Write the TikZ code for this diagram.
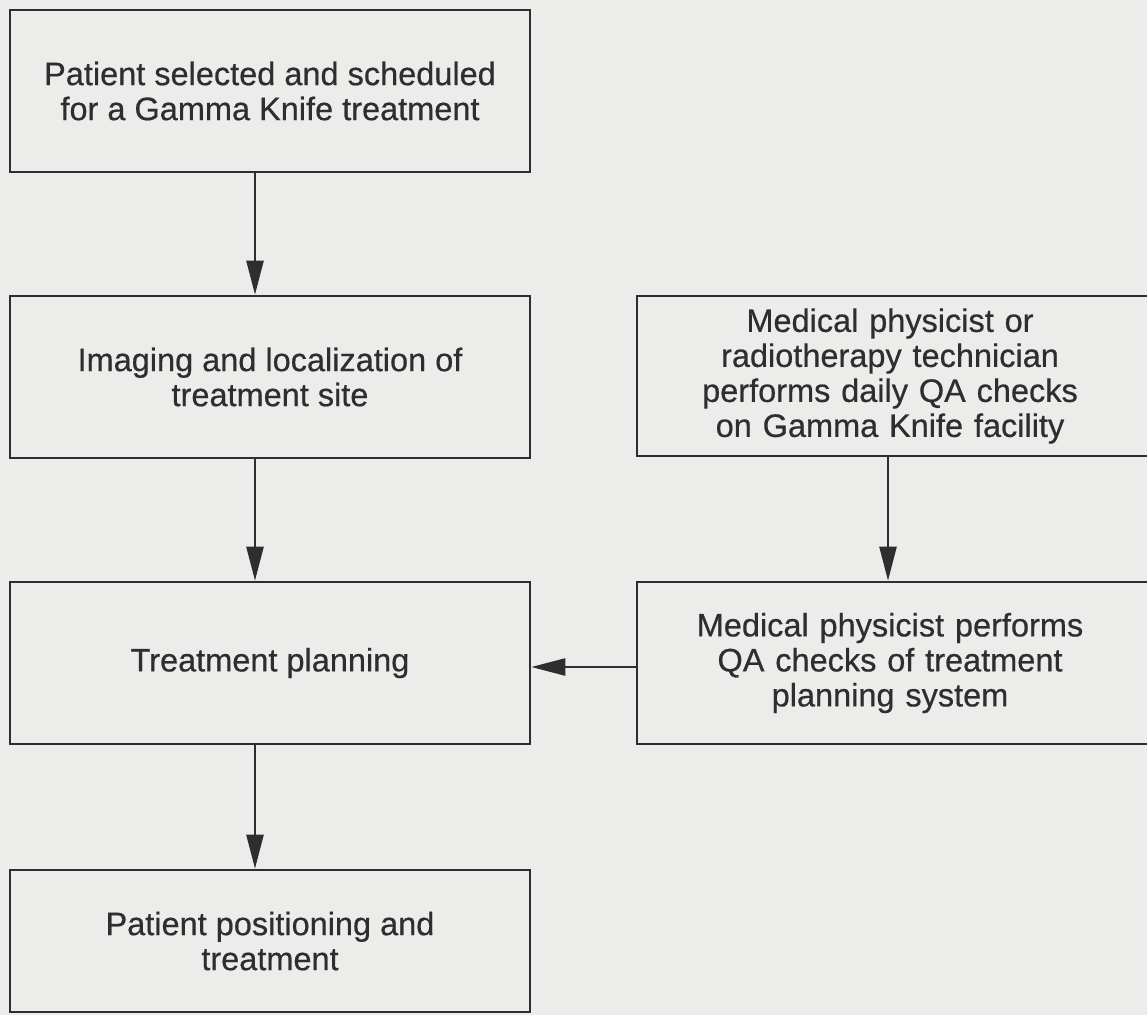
\documentclass[tikz,border=0pt]{standalone}
\usepackage{fontspec}
\setmainfont{Liberation Sans}
\newfontfamily\scanfont[FakeBold=0.5]{Liberation Sans}
\usetikzlibrary{arrows.meta}
\definecolor{bg}{HTML}{ECECEA}
\definecolor{ink}{HTML}{2E2E2E}
\tikzset{
  flowbox/.style={draw=ink, line width=2.6pt, rectangle, inner sep=0pt,
    text=ink, align=center, font=\scanfont\fontsize{32.5}{35}\selectfont},
  arr/.style={draw=ink, line width=2.4pt, -{Triangle[length=34pt,width=17pt]}},
}
\begin{document}
\begin{tikzpicture}[x=1pt,y=-1pt]
\clip (0,0) rectangle (1147,1015);
\fill[bg] (0,0) rectangle (1147,1015);
% left column
\node[flowbox, minimum width=520pt, minimum height=162pt] (b1) at (270,91)
  {Patient selected and scheduled\\for a Gamma Knife treatment};
\node[flowbox, minimum width=520pt, minimum height=162pt] (b2) at (270,377)
  {Imaging and localization of\\treatment site};
\node[flowbox, minimum width=520pt, minimum height=162pt] (b3) at (270,663)
  {Treatment planning};
\node[flowbox, minimum width=520pt, minimum height=142pt] (b4) at (270,941)
  {Patient positioning and\\treatment};
% right column
\node[flowbox, minimum width=516pt, minimum height=160pt, text width=500pt] (r1) at (895,376)
  {\hspace*{-10pt}Medical physicist or\\\hspace*{-10pt}radiotherapy technician\\\hspace*{-10pt}performs daily QA checks\\\hspace*{-10pt}on Gamma Knife facility};
\node[flowbox, minimum width=516pt, minimum height=162pt, text width=500pt] (r2) at (895,663)
  {\hspace*{-10pt}Medical physicist performs\\\hspace*{-10pt}QA checks of treatment\\\hspace*{-10pt}planning system};
% connector x positions
\coordinate (lx) at (255,0);
\coordinate (rx) at (888,0);
\coordinate (hy) at (0,667);
\draw[arr] (b1.south -| lx) -- (b2.north -| lx);
\draw[arr] (b2.south -| lx) -- (b3.north -| lx);
\draw[arr] (b3.south -| lx) -- (b4.north -| lx);
\draw[arr] (r1.south -| rx) -- (r2.north -| rx);
\draw[arr] (r2.west |- hy) -- (b3.east |- hy);
\end{tikzpicture}
\end{document}
